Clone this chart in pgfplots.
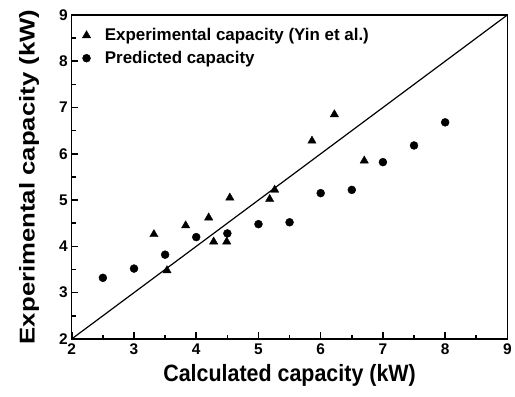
\documentclass[border=0pt]{standalone}
\usepackage{pgfplots}
\pgfplotsset{compat=1.18}
\usepackage{fontspec}
\setmainfont{Liberation Sans}
\begin{document}
\begin{tikzpicture}
\path (-72pt,-58pt) rectangle (443pt,340pt);
\begin{axis}[
  at={(0,0)}, anchor=south west,
  scale only axis, width=437pt, height=325pt,
  xmin=2, xmax=9, ymin=2, ymax=9,
  xtick={2,...,9}, ytick={2,...,9},
  minor xtick={2.5,3.5,...,8.5}, minor ytick={2.5,3.5,...,8.5},
  tick align=inside,
  tick pos=left,
  major tick length=6.5pt, minor tick length=4pt,
  every axis/.append style={line width=1.3pt},
  every tick/.append style={line width=1.6pt, black},
  /pgf/number format/assume math mode=true,
  tick label style={font=\fontsize{15.5}{17}\selectfont\bfseries},
  xticklabel style={yshift=-1pt},
  xlabel={\scalebox{1}[1.1]{Calculated capacity (kW)}},
  ylabel={\scalebox{1.2}[1]{Experimental capacity (kW)}},
  label style={font=\fontsize{21.5}{24}\selectfont\bfseries},
  xlabel style={yshift=-2pt},
  ylabel style={yshift=13pt},
  legend style={draw=none, fill=none, at={(0,1)}, anchor=north west,
    xshift=7pt, yshift=-9pt,
    font=\fontsize{17}{19}\selectfont\bfseries, row sep=5pt},
  legend cell align=left,
  legend image code/.code={\draw[#1, only marks] plot coordinates {(0.35cm,0cm)};
    \node[inner sep=0pt, minimum size=0pt] at (0.92cm,0) {};},
  clip=false,
]
\addplot[only marks, mark=triangle*, mark size=4.8pt, black, line width=0.4pt] coordinates {
 (6.22,6.85) (5.86,6.28) (6.70,5.85) (5.26,5.22) (5.18,5.02) (4.54,5.05)
 (4.20,4.62) (3.83,4.45) (3.32,4.26) (4.28,4.10) (4.49,4.10) (3.53,3.48)
};
\addlegendentry{Experimental capacity (Yin et al.)}
\addplot[only marks, mark=*, mark size=4pt, black, line width=0.4pt] coordinates {
 (2.5,3.32) (3,3.52) (3.5,3.82) (4,4.2) (4.5,4.28) (5,4.48) (5.5,4.52)
 (6,5.15) (6.5,5.22) (7,5.82) (7.5,6.18) (8,6.68)
};
\addlegendentry{Predicted capacity}
\addplot[black, line width=1.2pt, forget plot] coordinates {(2,2) (9,9)};
\end{axis}
\end{tikzpicture}
\end{document}
